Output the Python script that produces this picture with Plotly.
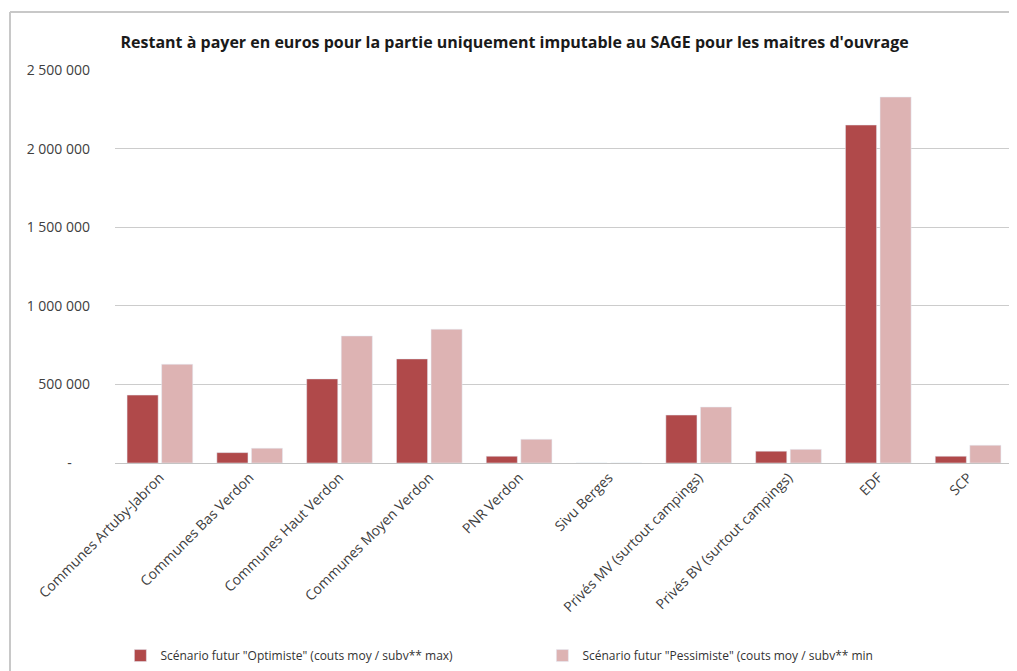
"""Restant à payer par maître d'ouvrage : barres groupées, deux scénarios."""
import plotly.graph_objects as go

categories = [
    "Communes Artuby-Jabron",
    "Communes Bas Verdon",
    "Communes Haut Verdon",
    "Communes Moyen Verdon",
    "PNR Verdon",
    "Sivu Berges",
    "Privés MV (surtout campings)",
    "Privés BV (surtout campings)",
    "EDF",
    "SCP",
]

# valeurs (euros)
optimiste = [432000, 66000, 535000, 662000, 43000, 0, 305000, 75000, 2150000, 43000]
pessimiste = [628000, 94000, 808000, 851000, 151000, 0, 356000, 87000, 2328000, 113000]

series_names = [
    'Scénario futur "Optimiste" (couts moy / subv** max)',
    'Scénario futur "Pessimiste" (couts moy / subv** min',
]

y_tickvals = [0, 500000, 1000000, 1500000, 2000000, 2500000]
y_ticktext = ["-\u00a0\u00a0\u00a0\u00a0\u00a0", "500 000", "1 000 000", "1 500 000", "2 000 000", "2 500 000"]

DARK = "#b0494a"
LIGHT = "#ddb3b3"
FONT = "Open Sans"

# géométrie de la zone de tracé (px)
L, R, T, B = 107, 12, 62, 216
PW = 1017 - L - R
PH = 671 - T - B

fig = go.Figure()
fig.add_trace(go.Bar(x=categories, y=optimiste, name=series_names[0], marker=dict(color=DARK)))
fig.add_trace(go.Bar(x=categories, y=pessimiste, name=series_names[1], marker=dict(color=LIGHT)))

fig.update_layout(
    width=1017,
    height=671,
    paper_bgcolor="white",
    plot_bgcolor="white",
    barmode="group",
    bargap=0.23,
    bargroupgap=0.1,
    margin=dict(l=L, r=R, t=T, b=B, autoexpand=False),
    font=dict(family=FONT, size=12, color="#595959"),
    title=dict(
        text="<b>Restant à payer en euros pour la partie uniquement imputable au SAGE pour les maitres d'ouvrage</b>",
        x=0.445,
        xref="paper",
        xanchor="center",
        y=0.949,
        yref="container",
        yanchor="middle",
        font=dict(family=FONT, size=16, color="#1a1a1a"),
    ),
    xaxis=dict(
        tickangle=-45,
        showgrid=False,
        showline=True,
        linecolor="#c4c4c4",
        ticks="",
        tickfont=dict(size=14, color="#404040"),
        automargin=False,
    ),
    yaxis=dict(
        range=[0, 2500000],
        tickvals=y_tickvals,
        ticktext=y_ticktext,
        showgrid=True,
        gridcolor="#cccccc",
        gridwidth=1,
        zeroline=False,
        ticks="",
        ticklabelstandoff=24,
        tickfont=dict(size=14, color="#404040"),
        automargin=False,
    ),
    legend=dict(
        orientation="h",
        x=0.006,
        xanchor="left",
        y=-0.49,
        yanchor="middle",
        entrywidth=377,
        entrywidthmode="pixels",
        font=dict(size=12, color="#333333"),
        itemwidth=30,
    ),
    showlegend=True,
)

# cadre gris du graphique (gauche et haut)
frame_x = (2 - L) / PW
frame_y = (671 - B - 4) / PH
fig.add_shape(type="line", xref="paper", yref="paper",
              x0=frame_x, x1=frame_x, y0=-1.2, y1=frame_y,
              line=dict(color="#c8c8c8", width=2))
fig.add_shape(type="line", xref="paper", yref="paper",
              x0=frame_x, x1=1.02, y0=frame_y, y1=frame_y,
              line=dict(color="#c8c8c8", width=2))

fig.write_html("out.html")
